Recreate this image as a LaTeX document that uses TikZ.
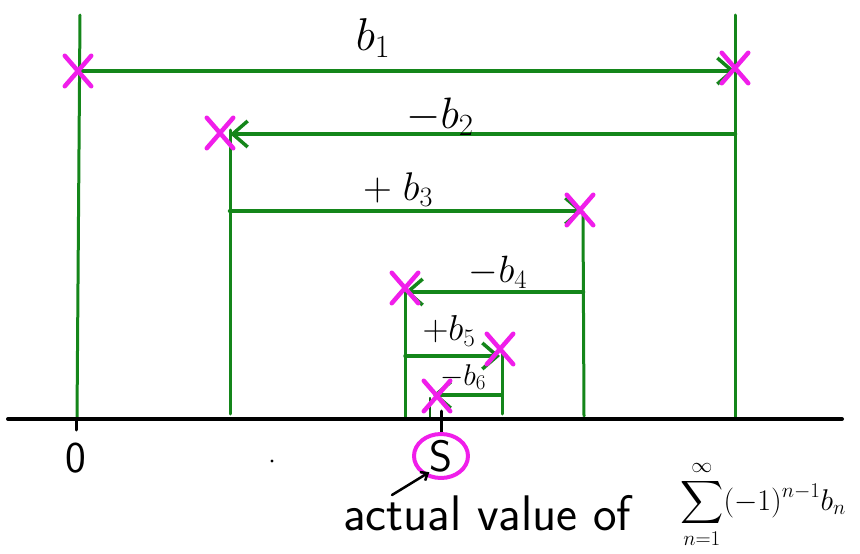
\RequirePackage{fix-cm}
\documentclass[tikz,border=0pt]{standalone}
\usepackage{amsmath,amssymb}
\usepackage{xcolor}
\usetikzlibrary{arrows.meta,shapes.misc,positioning}
\definecolor{pen}{HTML}{14861A}
\definecolor{magpen}{HTML}{F01EEA}

\begin{document}
\begin{tikzpicture}[x=1pt, y=-1pt, line cap=round, line join=round,
  wall/.style={pen, line width=3pt},
  jump/.style={pen, line width=4.5pt,
    -{Straight Barb[length=15pt,width=26pt,line width=3.5pt]}},
  xmark/.style={cross out, draw=magpen, line width=4.5pt,
    minimum width=22pt, minimum height=26pt, inner sep=0pt},
  lbl/.style={font=\fontsize{#1}{#1}\selectfont, inner sep=0pt}]
  \useasboundingbox (0,0) rectangle (860,554);
  % partial sums on the line
  \coordinate (s1) at (80,71);   \coordinate (e1) at (735,71);
  \coordinate (s2) at (735,134); \coordinate (e2) at (230,134);
  \coordinate (s3) at (230,211); \coordinate (e3) at (583,211);
  \coordinate (s4) at (583,292); \coordinate (e4) at (405,292);
  \coordinate (s5) at (405,356); \coordinate (e5) at (500,356);
  \coordinate (s6) at (502,395); \coordinate (e6) at (433,395);
  % vertical walls
  \draw[wall] (80,15) -- (77,418);
  \draw[wall] (735,15) -- (735,418);
  \draw[wall] (230,130) -- (230,414);
  \draw[wall] (583,212) -- (584,416);
  \draw[wall] (405,288) -- (405,418);
  \draw[wall] (502,352) -- (502,414);
  \draw[pen!75!black, line width=2.5pt] (430,398) -- (430,418);
  % number line
  \draw[black, line width=4pt] (8,419) -- (842,419);
  \draw[black, line width=3pt] (76,419) -- (76,430);
  \draw[black, line width=3pt] (441,411) -- (441,432);
  \node[lbl=44, font=\sffamily\fontsize{44}{44}\selectfont] (zero) at (76,458) {0};
  \node[lbl=44, font=\sffamily\fontsize{44}{44}\selectfont] (sval) at (441,456) {S};
  \draw[magpen, line width=4pt] (sval) ellipse (27pt and 22pt);
  \fill (272,461) circle (1.6pt);
  % jumps
  \draw[jump] (s1) -- (e1);
  \draw[jump] (s2) -- (e2);
  \draw[jump] (s3) -- (e3);
  \draw[jump] (s4) -- (e4);
  \draw[jump, line width=3.5pt] (s5) -- (e5);
  \draw[jump, line width=3.5pt] (s6) -- (e6);
  \node[lbl=46] (l1) at (373,38) {$b_1$};
  \node[lbl=44] (l2) at (440,117) {$-b_2$};
  \node[lbl=40] (l3) at (398,190) {$+\;b_3$};
  \node[lbl=38] (l4) at (498,272) {$-b_4$};
  \node[lbl=36] (l5) at (449,331) {$+b_5$};
  \node[lbl=30] (l6) at (463,377) {$-b_6$};
  % crosses
  \foreach \p/\q in {78/71, 735/68, 220/133, 580/210, 405/288, 500/349, 437/396}
    \node[xmark] at (\p,\q) {};
  % caption
  \node[lbl=50, font=\sffamily\fontsize{50}{50}\selectfont, anchor=base west]
    (cap) at (343,530) {actual value of};
  \node[lbl=30, anchor=base west] (sum) at (680,510)
    {$\displaystyle\sum_{n=1}^{\infty}(-1)^{n-1}b_n$};
  \coordinate (tail) at (392,495);
  \draw[black, line width=2.5pt, -{Straight Barb[length=6pt,width=10pt]}]
    (tail) -- (sval.south west);
\end{tikzpicture}
\end{document}
